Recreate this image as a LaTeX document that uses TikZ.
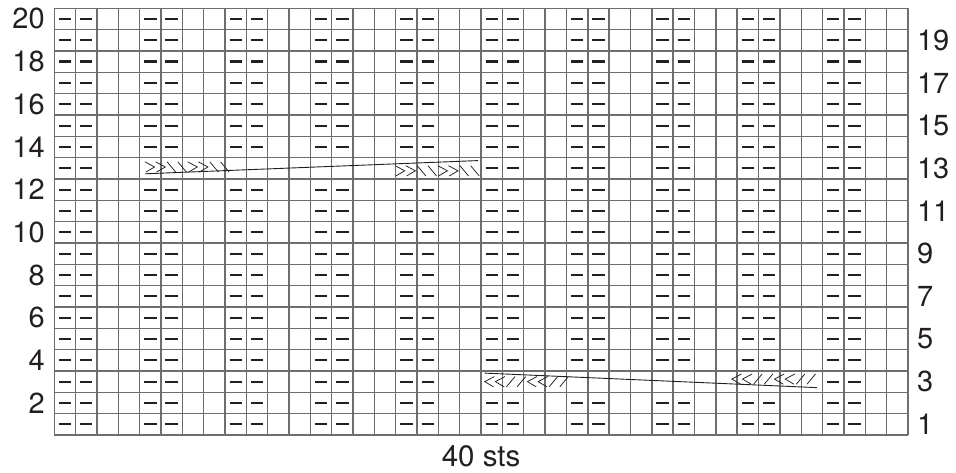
\documentclass[tikz,border=0pt]{standalone}
\usepackage{fontspec}
\setmainfont{TeX Gyre Heros}
\usepackage{tikz}
\usetikzlibrary{positioning}
\definecolor{kc-grid}{RGB}{110,110,110}
\definecolor{kc-ink}{RGB}{35,31,32}
\tikzset{
  kc@grid/.style={draw=kc-grid, line width=1.4pt},
  kc@purl/.style={draw=kc-ink, line width=2.1pt},
  kc@sym/.style={draw=kc-ink, line width=0.75pt},
  kc@travel/.style={draw=kc-ink, line width=0.9pt},
  kc@num/.style={font=\fontsize{29}{29}\selectfont, text=kc-ink, inner sep=0pt},
  kc@sts/.style={font=\fontsize{29.5}{29.5}\selectfont, text=kc-ink, inner sep=0pt},
  kc@rgroup/.pic={
    \foreach \k in {0,1,4,5}
      \draw[kc@sym] (\k*0.5,0.5) -- ++(0.45,-0.24) -- ++(-0.41,-0.24);
    \foreach \k in {2,3,6,7}
      \draw[kc@sym] (\k*0.5+0.04,0.5) -- ++(0.4,-0.48);
  },
  kc@lgroup/.pic={
    \foreach \k in {0,1,4,5}
      \draw[kc@sym] (\k*0.5+0.45,0.5) -- ++(-0.45,-0.24) -- ++(0.41,-0.24);
    \foreach \k in {2,3,6,7}
      \draw[kc@sym] (\k*0.5+0.02,0.02) -- ++(0.4,0.48);
  },
}

\begin{document}
\begin{tikzpicture}[x=21.34pt, y=21.34pt]
  \useasboundingbox (-54.3pt,-37pt) rectangle (901.7pt,435pt);

  % chart grid, 40 sts x 20 rows
  \draw[kc@grid] (0,0) grid[step=1] (40,20);

  % purl stitches (2 purl, 2 knit), left out where the cables run
  \foreach \r in {1,...,20}{
    \foreach \c in {1,5,...,37}{
      \pgfmathtruncatemacro\incable{((\r==13 && \c>4 && \c<21) || (\r==3 && \c>20 && \c<37)) ? 1 : 0}
      \ifnum\incable=0
        \draw[kc@purl] (\c-0.79,\r-0.5) -- ++(0.58,0);
        \draw[kc@purl] (\c+0.21,\r-0.5) -- ++(0.58,0);
      \fi
    }
  }

  % cable row 13
  \pic at (4.25,12.3) {kc@rgroup};
  \pic at (15.97,12.12) {kc@rgroup};
  \coordinate (c13a) at (4.25,12.24);
  \coordinate (c13b) at (19.86,12.86);
  \draw[kc@travel] (c13a) -- (c13b);

  % cable row 3
  \pic at (20.17,2.24) {kc@lgroup};
  \pic at (31.75,2.36) {kc@lgroup};
  \coordinate (c3a) at (20.17,2.9);
  \coordinate (c3b) at (35.73,2.22);
  \draw[kc@travel] (c3a) -- (c3b);

  % row numbers
  \foreach \r in {2,4,...,20}
    \node[kc@num, anchor=east] (lrow\r) at (-0.44,\r-0.5) {\r};
  \foreach \r in {1,3,...,19}
    \node[kc@num, anchor=west] (rrow\r) at (40.42,\r-0.5) {\r};

  \coordinate (kcbase) at (20,0);
  \node[kc@sts, below=10pt of kcbase] (sts) {40 sts};
\end{tikzpicture}
\end{document}
